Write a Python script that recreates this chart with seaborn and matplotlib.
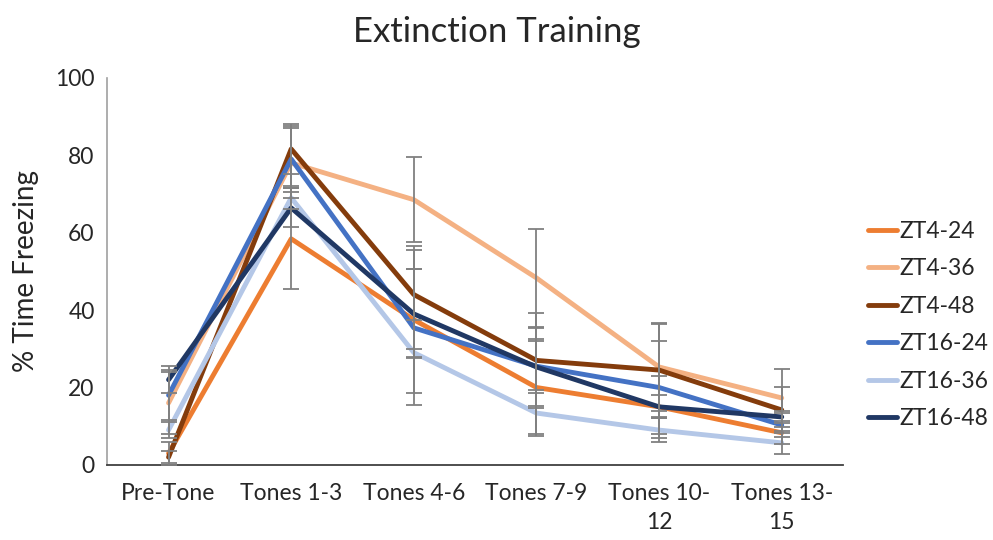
import matplotlib
matplotlib.use("Agg")
import matplotlib.pyplot as plt
import seaborn as sns
import pandas as pd
import numpy as np

categories = ["Pre-Tone", "Tones 1-3", "Tones 4-6", "Tones 7-9", "Tones 10-\n12", "Tones 13-\n15"]
groups = ["ZT4-24", "ZT4-36", "ZT4-48", "ZT16-24", "ZT16-36", "ZT16-48"]

zt4_24 = [3, 58.4, 37.5, 20, 15, 8.3]
zt4_36 = [16, 78, 68.5, 48.3, 25.3, 17.3]
zt4_48 = [2, 81.6, 44, 27, 24.5, 14.2]
zt16_24 = [18, 79, 35.4, 25.5, 20, 10.3]
zt16_36 = [9, 69, 29, 13.4, 9, 5.7]
zt16_48 = [22, 66.4, 39, 25.3, 15, 12.4]

err4_24 = [3, 13, 19, 12, 8, 3]
err4_36 = [8, 9, 11, 12.7, 11.4, 7.5]
err4_48 = [1.5, 6.5, 6.5, 12.3, 12, 6]
err16_24 = [6.5, 8.5, 20, 7, 12, 3]
err16_36 = [2, 3, 1, 6, 3, 3]
err16_48 = [3.5, 5, 11.5, 10, 3, 1.5]

colors = ["#ED7D31", "#F4B183", "#843C0C", "#4472C4", "#B4C7E7", "#203864"]

values = [zt4_24, zt4_36, zt4_48, zt16_24, zt16_36, zt16_48]
errors = [err4_24, err4_36, err4_48, err16_24, err16_36, err16_48]

rows = []
for g, vals, errs in zip(groups, values, errors):
    for i, (v, e) in enumerate(zip(vals, errs)):
        rows.append({"group": g, "pos": i, "value": v, "err": e})
df = pd.DataFrame(rows)

sns.set_style("white")
plt.rcParams["font.family"] = ["Lato", "DejaVu Sans"]

fig = plt.figure(figsize=(9.93, 5.40), dpi=100)
ax = fig.add_axes([0.108, 0.139, 0.741, 0.717])

sns.lineplot(data=df, x="pos", y="value", hue="group", hue_order=groups,
             palette=colors, linewidth=3.5, ax=ax, errorbar=None, sort=False)

for g in groups:
    sub = df[df["group"] == g]
    ax.errorbar(sub["pos"], sub["value"], yerr=sub["err"], fmt="none",
                ecolor="#808080", elinewidth=1.3, capsize=6, capthick=1.3, zorder=4)

ax.set_xlim(-0.5, 5.5)
ax.set_ylim(0, 100)
ax.set_yticks([0, 20, 40, 60, 80, 100])
ax.set_xticks(range(len(categories)))
ax.set_xticklabels(categories, fontsize=16.5, color="#262626", linespacing=1.45, va="top")
ax.tick_params(axis="y", labelsize=16.5, colors="#262626", length=0, pad=9)
ax.tick_params(axis="x", length=0, pad=13)
ax.set_xlabel("")
ax.set_ylabel("% Time Freezing", fontsize=20, color="#262626", labelpad=12)
fig.suptitle("Extinction Training", x=0.5, y=0.94, va="center", fontsize=25, color="#262626")

for s in ["top", "right"]:
    ax.spines[s].set_visible(False)
ax.spines["left"].set_color("#A0A0A0")
ax.spines["left"].set_linewidth(1.2)
ax.spines["bottom"].set_color("#404040")
ax.spines["bottom"].set_linewidth(1.3)

leg = ax.legend(loc="center left", bbox_to_anchor=(1.034, 0.362), frameon=False,
                fontsize=16.5, handlelength=1.25, handletextpad=0.12, labelspacing=0.72,
                borderaxespad=0.0, borderpad=0.0)
for line in leg.get_lines():
    line.set_linewidth(3.5)

fig.savefig("out.png", dpi=100)
